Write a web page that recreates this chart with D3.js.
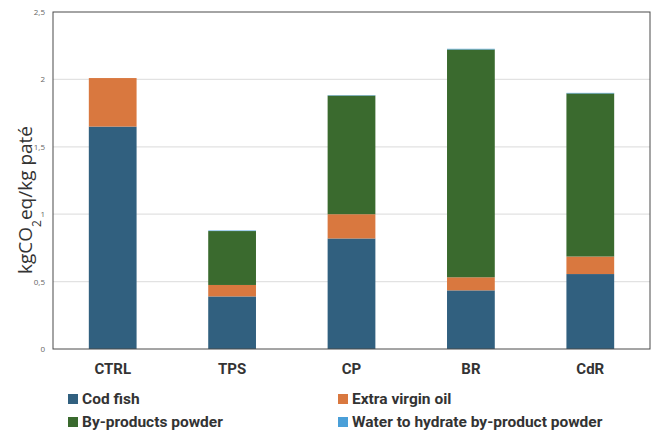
<!DOCTYPE html>
<html>
<head>
<meta charset="utf-8">
<script src="https://cdn.jsdelivr.net/npm/d3@7"></script>
<style>
  html, body { margin: 0; padding: 0; background: #fff; }
  svg { display: block; }
</style>
</head>
<body>
<svg id="chart" width="660" height="435"></svg>
<script>
// Carbon footprint of each paté formulation, split by ingredient (kg CO2 eq / kg paté)
const categories = ["CTRL", "TPS", "CP", "BR", "CdR"];
const codFish     = [1.65, 0.39, 0.82, 0.435, 0.556];
const virginOil   = [0.36, 0.085, 0.18, 0.097, 0.13];
const byProducts  = [0.00, 0.40, 0.88, 1.69, 1.21];
const waterHydr   = [0.00, 0.004, 0.003, 0.005, 0.004];
const yTicks = [0, 0.5, 1, 1.5, 2, 2.5];

const seriesNames = ["Cod fish", "Extra virgin oil", "By-products powder", "Water to hydrate by-product powder"];
const seriesKeys  = ["cod", "oil", "powder", "water"];
const colors      = ["#31607f", "#d9783f", "#3a6a2e", "#4a9fd8"];

const rows = categories.map((c, i) => ({
  cat: c, cod: codFish[i], oil: virginOil[i], powder: byProducts[i], water: waterHydr[i]
}));

const svg = d3.select("#chart");
const plotLeft = 53, plotRight = 650, plotTop = 12, plotBottom = 349;

const x = d3.scaleBand().domain(categories).range([plotLeft, plotRight])
  .paddingInner(0.6).paddingOuter(0.3);
const y = d3.scaleLinear().domain([0, 2.5]).range([plotBottom, plotTop]);

// gridlines
svg.append("g").selectAll("line")
  .data(yTicks.filter(t => t > 0 && t < 2.5))
  .join("line")
  .attr("x1", plotLeft).attr("x2", plotRight)
  .attr("y1", d => y(d)).attr("y2", d => y(d))
  .attr("stroke", "#e2e2e2").attr("stroke-width", 1.2);

// stacked bars
const stacked = d3.stack().keys(seriesKeys)(rows);
svg.append("g").selectAll("g")
  .data(stacked)
  .join("g")
  .attr("fill", (d, i) => colors[i])
  .selectAll("rect")
  .data(d => d)
  .join("rect")
  .attr("x", d => x(d.data.cat))
  .attr("width", x.bandwidth())
  .attr("y", d => y(d[1]))
  .attr("height", d => Math.max(0, y(d[0]) - y(d[1])));

// plot frame
svg.append("rect")
  .attr("x", plotLeft).attr("y", plotTop)
  .attr("width", plotRight - plotLeft).attr("height", plotBottom - plotTop)
  .attr("fill", "none").attr("stroke", "#4a4a4a").attr("stroke-width", 1);

// y axis labels
const yAxis = d3.axisLeft(y).tickValues(yTicks)
  .tickSize(0).tickPadding(8)
  .tickFormat(d => String(d).replace(".", ","));
svg.append("g").attr("transform", `translate(${plotLeft},0)`).call(yAxis)
  .call(g => g.select(".domain").remove())
  .selectAll("text")
  .attr("fill", "#666").style("font-family", "'Open Sans', sans-serif").style("font-size", "8px");

// x axis labels
const xAxis = d3.axisBottom(x).tickSize(0).tickPadding(14);
svg.append("g").attr("transform", `translate(0,${plotBottom})`).call(xAxis)
  .call(g => g.select(".domain").remove())
  .selectAll("text")
  .attr("fill", "#333")
  .style("font-family", "'Liberation Sans Narrow', 'Roboto', sans-serif")
  .style("font-weight", "bold").style("font-size", "15px");

// y axis title
const title = svg.append("text")
  .attr("transform", "translate(32,200) rotate(-90)")
  .attr("text-anchor", "middle")
  .attr("fill", "#333")
  .style("font-family", "'Open Sans', sans-serif").style("font-size", "19px");
title.append("tspan").text("kgCO");
title.append("tspan").attr("baseline-shift", "sub").style("font-size", "12px").text("2");
title.append("tspan").text("eq/kg paté");

// legend
const legendPos = [[68, 399], [338, 399], [68, 422], [338, 422]];
const lg = svg.append("g").selectAll("g")
  .data(seriesNames)
  .join("g")
  .attr("transform", (d, i) => `translate(${legendPos[i][0]},${legendPos[i][1]})`);
lg.append("rect").attr("x", 0).attr("y", -5).attr("width", 10).attr("height", 10)
  .attr("fill", (d, i) => colors[i]);
lg.append("text").attr("x", 14).attr("y", 0).attr("dy", "0.35em")
  .attr("fill", "#333")
  .style("font-family", "'Liberation Sans Narrow', 'Roboto', sans-serif")
  .style("font-weight", "bold").style("font-size", "15.5px")
  .text(d => d);
</script>
</body>
</html>
